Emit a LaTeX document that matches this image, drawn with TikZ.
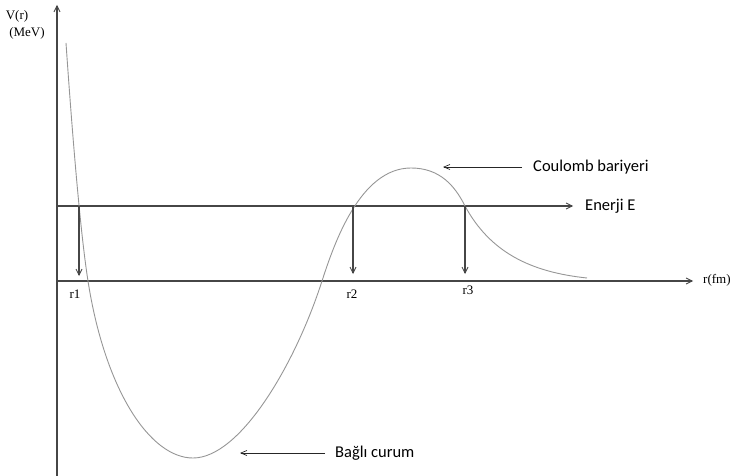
\documentclass[tikz,border=0pt]{standalone}
\usepackage{fontspec}
\setmainfont{Liberation Serif}
\newfontfamily\calibfont{Carlito}
\usetikzlibrary{positioning,arrows.meta}
\definecolor{axisC}{RGB}{70,70,70}
\definecolor{curveC}{RGB}{150,150,150}
\tikzset{
	axis/.style={draw=axisC, line width=1.4pt},
	axisarrow/.style={axis, -{Straight Barb[length=6pt,width=6pt,line width=0.8pt]}},
	drop/.style={draw=axisC, line width=1.3pt, -{Straight Barb[length=6pt,width=6pt,line width=0.8pt]}},
	pointer/.style={draw=black!85, line width=0.9pt, -{Straight Barb[length=6pt,width=5pt,line width=0.7pt]}},
	potential/.style={draw=curveC, line width=0.9pt},
	mathlbl/.style={font=\fontsize{13}{14}\selectfont, inner sep=0pt},
	note/.style={font=\calibfont\fontsize{16.5}{18}\selectfont, inner sep=0pt, anchor=west},
}

\begin{document}
\begin{tikzpicture}[x=1pt, y=-1pt]
	\useasboundingbox (0,0) rectangle (731,476);
	
	% ================= Axes =================
	\coordinate (O) at (57,281);
	\coordinate (ybot) at (57,476);
	\coordinate (ytip) at (57,5);
	\coordinate (xtip) at (693,281);
	\draw[axisarrow] (ybot) -- (ytip);
	\draw[axisarrow] (O) -- (xtip);
	\node[mathlbl] (vlab) at (17,16) {V(r)};
	\node[mathlbl] (mev) at (27,33) {(MeV)};
	\node[mathlbl, anchor=west] (rfm) at (703,280) {r(fm)};
	
	% ================= Energy level =================
	\coordinate (eL) at (57,206);
	\coordinate (eR) at (573,206);
	\draw[axisarrow] (eL) -- (eR);
	\node[note] (enerji) at (585,206) {Enerji E};
	
	% ================= Potential curve =================
	\draw[potential] (66,43)
		.. controls (72,130) and (80,230) .. (88,281)
		.. controls (105,390) and (150,458) .. (193,458)
		.. controls (240,458) and (295,365) .. (322,281)
		.. controls (334,244) and (360,168) .. (411,168)
		.. controls (440,168) and (455,186) .. (465,206)
		.. controls (490,252) and (530,272) .. (587,278);
	
	% ================= Turning points =================
	\coordinate (t1) at (79,206);
	\coordinate (t2) at (353,206);
	\coordinate (t3) at (465,206);
	\coordinate (b1) at (79,276);
	\coordinate (b2) at (353,274);
	\coordinate (b3) at (465,274);
	\draw[drop] (t1) -- (b1);
	\draw[drop] (t2) -- (b2);
	\draw[drop] (t3) -- (b3);
	\node[mathlbl] (r1) at (75,294) {r1};
	\node[mathlbl] (r2) at (352,294) {r2};
	\node[mathlbl] (r3) at (468,290) {r3};
	
	% ================= Annotations =================
	\node[note] (coul) at (533,167) {Coulomb bariyeri};
	\coordinate (peak) at (443,167);
	\draw[pointer] ([xshift=-11pt]coul.west) -- (peak);
	
	\node[note] (bagli) at (335,453) {Bağlı curum};
	\coordinate (well) at (240,453);
	\draw[pointer] ([xshift=-10pt]bagli.west) -- (well);
	
\end{tikzpicture}
\end{document}
